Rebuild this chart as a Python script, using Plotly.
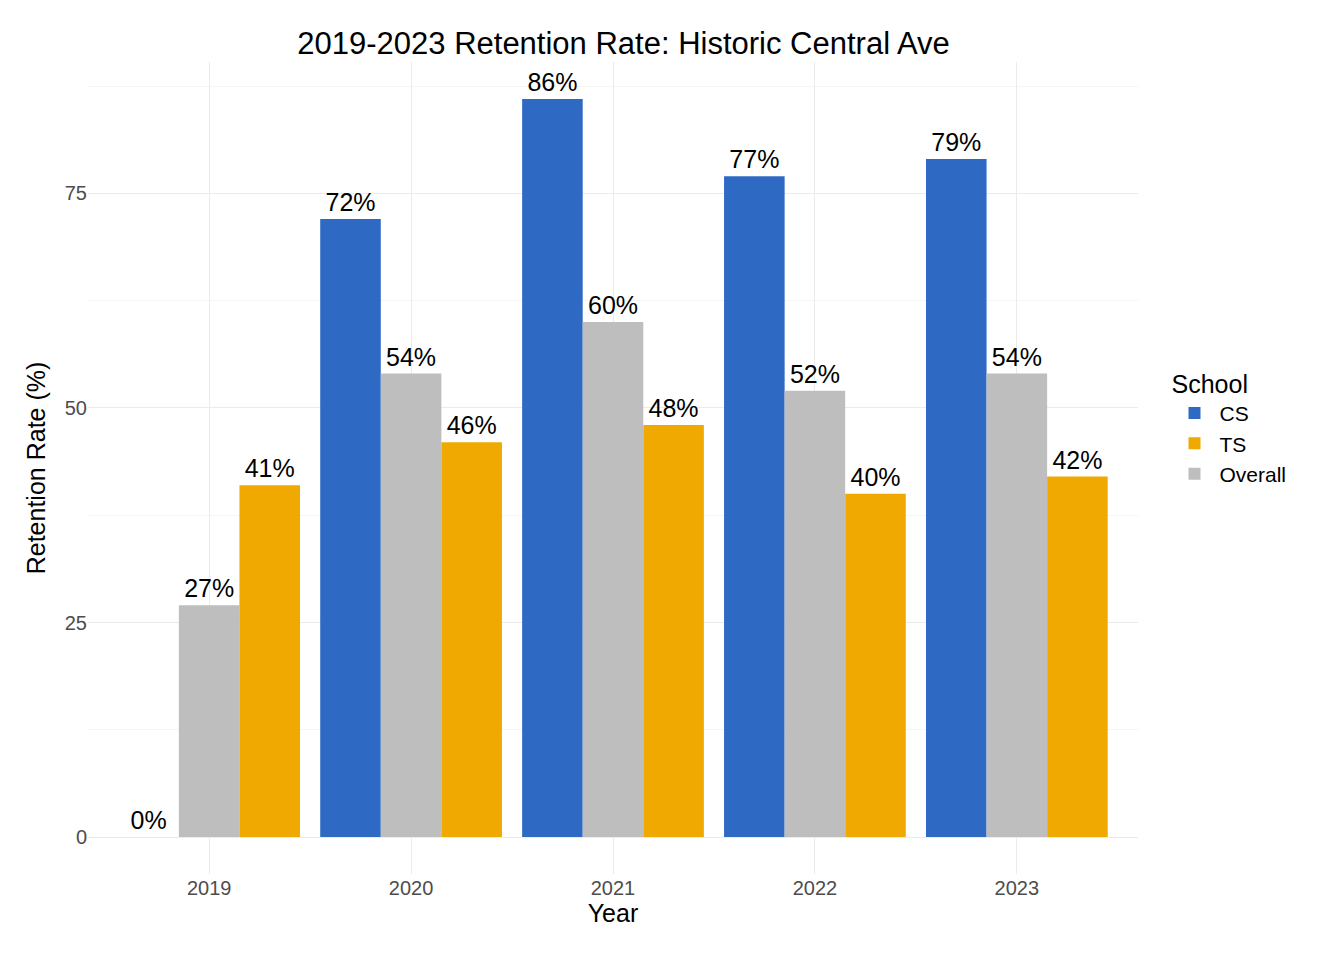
import plotly.graph_objects as go

years = ["2019", "2020", "2021", "2022", "2023"]
cs = [0, 72, 86, 77, 79]
overall = [27, 54, 60, 52, 54]
ts = [41, 46, 48, 40, 42]

series = [
    ("CS", cs, "#2E6AC4", 1),
    ("Overall", overall, "#BEBEBE", 3),
    ("TS", ts, "#F0A900", 2),
]

fig = go.Figure()
for name, vals, color, rank in series:
    fig.add_trace(go.Bar(
        x=years, y=vals, name=name, marker_color=color, marker_line_width=0,
        legendrank=rank,
        text=[f"{v}%" for v in vals], textposition="outside",
        textfont=dict(size=25, color="black"), cliponaxis=False,
    ))

fig.update_layout(
    barmode="group", bargap=0.1, bargroupgap=0,
    width=1344, height=960,
    margin=dict(l=80, r=214, t=54, b=94),
    plot_bgcolor="white", paper_bgcolor="white",
    font=dict(family="Liberation Sans, Arial", color="black"),
    title=dict(text="2019-2023 Retention Rate: Historic Central Ave",
               x=0.458, xanchor="center", y=0.975, font=dict(size=31)),
    legend=dict(title=dict(text="School", font=dict(size=25)),
                font=dict(size=21), x=1.03, y=0.55, yanchor="middle",
                itemsizing="constant", itemwidth=40, tracegroupgap=12),
    uniformtext=dict(minsize=25, mode="show"),
)
fig.update_xaxes(title=dict(text="Year", font=dict(size=25), standoff=6),
                 tickfont=dict(size=20, color="#4D4D4D"),
                 range=[-0.6, 4.6], showgrid=True, gridcolor="#EBEBEB",
                 ticks="", showline=False)
fig.update_yaxes(title=dict(text="Retention Rate (%)", font=dict(size=25), standoff=12),
                 tickfont=dict(size=20, color="#4D4D4D"),
                 range=[-4.3, 90.3], tickvals=[0, 25, 50, 75],
                 gridcolor="#EBEBEB", zeroline=False,
                 minor=dict(tickvals=[12.5, 37.5, 62.5, 87.5], showgrid=True,
                            gridcolor="#F5F5F5"))

fig.write_html("out.html")
